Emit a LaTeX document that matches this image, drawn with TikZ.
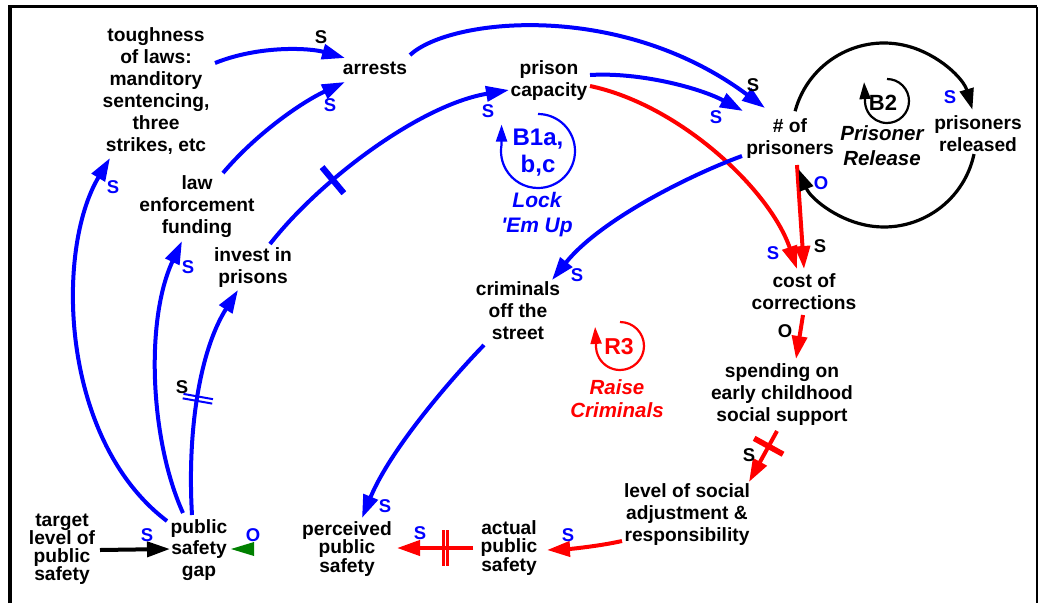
\documentclass[tikz,border=0pt]{standalone}
\usepackage{fontspec}
\setmainfont{Liberation Sans}
\usetikzlibrary{arrows.meta,decorations.markings}
\definecolor{cldblue}{RGB}{0,0,255}
\definecolor{cldred}{RGB}{255,0,0}
\definecolor{cldgreen}{RGB}{0,128,0}
\begin{document}
\begin{tikzpicture}[x=1pt,y=1pt,
  var/.style={font=\bfseries\fontsize{19.2}{22}\selectfont, align=center, inner sep=0pt},
  tight/.style={font=\bfseries\fontsize{19.2}{17.5}\selectfont},
  pol/.style={font=\bfseries\fontsize{18.5}{20}\selectfont, inner sep=0pt},
  link/.style={line width=4pt, -{Triangle[length=23pt,width=15pt]}},
  blink/.style={link, color=cldblue},
  rlink/.style={link, color=cldred},
  klink/.style={link, color=black},
  bigloop/.style={line width=3.2pt, color=black, -{Triangle[length=21pt,width=14pt]}},
  smallloop/.style={line width=2.2pt, -{Triangle[length=17pt,width=11pt]}},
  dbar/.style n args={4}{postaction={decorate,decoration={markings,
      mark=at position #1 with {\draw[line width=#3,-] (-#2/2,-#4/2) -- (-#2/2,#4/2) (#2/2,-#4/2) -- (#2/2,#4/2);}}}}
]
\useasboundingbox (0,0) rectangle (1039,-603);
% frame
\draw[line width=3.5pt] (10,-603) -- (10,-6.5) -- (1037,-6.5);
\draw[line width=1.8pt] (1037,-6.5) -- (1037,-603);

% variables
\node[var] (tough) at (156,-91) {toughness\\of laws:\\manditory\\sentencing,\\three\\strikes, etc};
\node[var] (arrests) at (375,-68) {arrests};
\node[var] (law) at (197,-207) {law\\enforcement\\funding};
\node[var] (invest) at (253,-268) {invest in\\prisons};
\node[var] (cap) at (549,-81) {prison\\capacity};
\node[var] (pris) at (790,-139) {\# of\\prisoners};
\node[var] (rel) at (978,-134) {prisoners\\released};
\node[var] (cost) at (804,-292) {cost of\\corrections};
\node[var] (spend) at (782,-395) {spending on\\early childhood\\social support};
\node[var] (level) at (687,-515) {level of social\\adjustment \&\\responsibility};
\node[var, tight] (actual) at (509,-548) {actual\\public\\safety};
\node[var, tight] (perc) at (347,-549) {perceived\\public\\safety};
\node[var] (crim) at (518,-311) {criminals\\off the\\street};
\node[var, font=\bfseries\fontsize{19.2}{21.5}\selectfont] (gap) at (199,-550) {public\\safety\\gap};
\node[var, font=\bfseries\fontsize{19.2}{18}\selectfont] (target) at (62,-549) {target\\level of\\public\\safety};

% loop markers
\draw[smallloop, color=cldblue] (538,-114) arc[start angle=90, end angle=-190, radius=37] -- ++(0,20);
\node[font=\bfseries\fontsize{24}{27}\selectfont, color=cldblue, align=center, inner sep=0pt] (b1) at (538,-153) {B1a,\\b,c};
\node[font=\bfseries\itshape\fontsize{21}{25}\selectfont, color=cldblue, align=center, inner sep=0pt] (b1name) at (537,-215) {Lock\\\textquotesingle Em Up};

\draw[smallloop, color=cldred] (620,-322) arc[start angle=90, end angle=-185, radius=24] -- ++(-1,17);
\node[font=\bfseries\fontsize{23}{27}\selectfont, color=cldred, inner sep=0pt] (r3) at (619,-347) {R3};
\node[font=\bfseries\itshape\fontsize{20.5}{23}\selectfont, color=cldred, align=center, inner sep=0pt] (r3name) at (617,-399) {Raise\\Criminals};

\draw[smallloop, color=black] (887,-79) arc[start angle=90, end angle=-185, radius=22] -- ++(-1,17);
\node[font=\bfseries\fontsize{22}{26}\selectfont, inner sep=0pt] (b2) at (883,-103) {B2};
\node[font=\bfseries\itshape\fontsize{20.5}{25}\selectfont, align=center, inner sep=0pt] (b2name) at (882,-146) {Prisoner\\Release};

% connectors
\draw[blink] ([shift={(59,28)}]tough.center) .. controls (260,-45) and (310,-48) .. ([shift={(-30,10)}]arrests.center);
\draw[blink] ([shift={(26,34)}]law.center) .. controls (255,-135) and (300,-103) .. ([shift={(-30,-14)}]arrests.center);
\draw[blink, dbar={0.31}{3.2pt}{3pt}{34pt}] ([shift={(17,24)}]invest.center) .. controls (320,-180) and (420,-105) .. ([shift={(-40,-9)}]cap.center);
\draw[blink] ([shift={(35,13)}]arrests.center) .. controls (450,-18) and (620,0) .. ([shift={(-25,31)}]pris.center);
\draw[blink] ([shift={(41,6)}]cap.center) .. controls (640,-72) and (700,-88) .. ([shift={(-47,28)}]pris.center);
\draw[rlink] ([shift={(41,-5)}]cap.center) .. controls (680,-105) and (770,-190) .. ([shift={(-7,23)}]cost.center);
\draw[rlink] ([shift={(7,-26)}]pris.center) -- ([shift={(0,23)}]cost.center);
\draw[blink] ([shift={(-48,-17)}]pris.center) .. controls (690,-175) and (600,-220) .. ([shift={(34,31)}]crim.center);
\draw[rlink] ([shift={(-1,-23)}]cost.center) -- ([shift={(14,36)}]spend.center);
\draw[rlink, dbar={0.3}{2.6pt}{3pt}{33pt}] ([shift={(-5,-36)}]spend.center) -- ([shift={(62,33)}]level.center);
\draw[rlink] ([shift={(-65,-26)}]level.center) .. controls (600,-546) and (570,-549) .. ([shift={(38,-2)}]actual.center);
\draw[rlink, dbar={0.36}{4.2pt}{2.8pt}{36pt}] ([shift={(-36,0)}]actual.center) -- ([shift={(50,1)}]perc.center);
\draw[blink] ([shift={(-34,-34)}]crim.center) .. controls (450,-380) and (390,-450) .. ([shift={(15,31)}]perc.center);
\draw[klink] ([shift={(38,-1)}]target.center) -- ([shift={(-29,1)}]gap.center);
\fill[cldgreen] ([shift={(32,1)}]gap.center) -- ++(23,7) -- ++(0,-14) -- cycle;
\draw[blink] ([shift={(-32,29)}]gap.center) .. controls (60,-440) and (55,-250) .. ([shift={(-46,-67)}]tough.center);
\draw[blink] ([shift={(-16,37)}]gap.center) .. controls (150,-440) and (145,-320) .. ([shift={(-15,-34)}]law.center);
\draw[blink, dbar={0.5}{4.5pt}{2pt}{30pt}] ([shift={(-7,35)}]gap.center) .. controls (187,-430) and (200,-350) .. ([shift={(-15,-22)}]invest.center);

% prisoner release loop
\draw[bigloop] ([shift={(5.1,27.8)}]pris.center) arc[start angle=165, end angle=16, radius=92];
\draw[bigloop] ([shift={(-4,-20.1)}]rel.center) arc[start angle=-12, end angle=-158, radius=92];

% polarity labels
\node[pol] (p1) at (321,-37) {S};
\node[pol, cldblue] (p2) at (330,-105) {S};
\node[pol, cldblue] (p3) at (488,-111) {S};
\node[pol] (p4) at (753,-85) {S};
\node[pol, cldblue] (p5) at (716,-117) {S};
\node[pol, cldblue] (p6) at (773,-253) {S};
\node[pol] (p7) at (820,-246) {S};
\node[pol, cldblue] (p8) at (577,-275) {S};
\node[pol] (p9) at (785,-331) {O};
\node[pol] (p10) at (749,-455) {S};
\node[pol, cldblue] (p11) at (568,-535) {S};
\node[pol, cldblue] (p12) at (420,-533) {S};
\node[pol, cldblue] (p13) at (385,-506) {S};
\node[pol, cldblue] (p14) at (147,-535) {S};
\node[pol, cldblue] (p15) at (253,-535) {O};
\node[pol, cldblue] (p16) at (113,-187) {S};
\node[pol, cldblue] (p17) at (188,-267) {S};
\node[pol] (p18) at (182,-387) {S};
\node[pol, cldblue] (p19) at (950,-97) {S};
\node[pol, cldblue] (p20) at (821,-183) {O};
\end{tikzpicture}
\end{document}
